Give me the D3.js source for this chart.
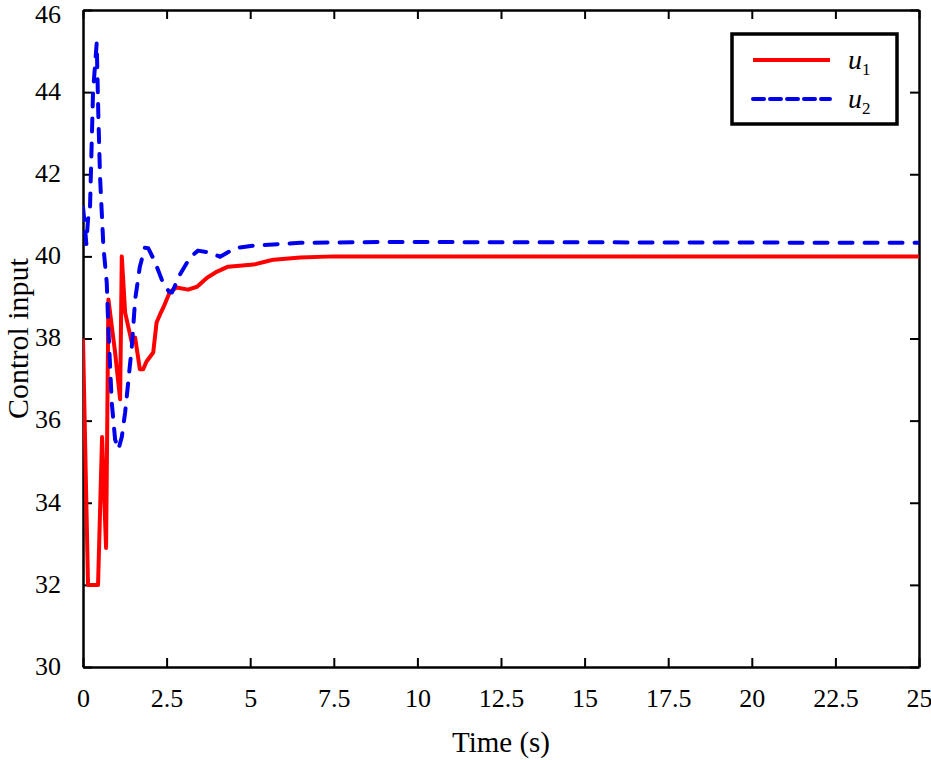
<!DOCTYPE html>
<html>
<head>
<meta charset="utf-8">
<script src="https://cdn.jsdelivr.net/npm/d3@7/dist/d3.min.js"></script>
<style>
  body { margin: 0; background: #fff; }
  svg text { font-family: "Liberation Serif", "Times New Roman", Times, "DejaVu Serif", serif; }
</style>
</head>
<body>
<script>
// u1 (red, solid)
const u1Time = [0, 0.15, 0.45, 0.57, 0.69, 0.76, 0.96, 1.11, 1.16, 1.26, 1.46, 1.56, 1.70, 1.80, 1.90, 2.10, 2.20, 2.30, 2.40, 2.60, 2.80, 3.14, 3.41, 3.71, 4.01, 4.34, 5.1, 5.5, 5.7, 6.5, 7.5, 25]
const u1Value = [38.0, 32.0, 32.0, 35.6, 32.9, 38.95, 37.66, 36.52, 40.0, 38.63, 37.9, 38.02, 37.25, 37.25, 37.44, 37.66, 38.39, 38.58, 38.75, 39.14, 39.24, 39.19, 39.26, 39.48, 39.63, 39.75, 39.8, 39.88, 39.92, 39.97, 40.0, 40.0]

// u2 (blue, dashed)
const u2Time = [0, 0.05, 0.1, 0.15, 0.21, 0.3, 0.41, 0.46, 0.51, 0.61, 0.71, 0.76, 0.86, 0.96, 1.06, 1.16, 1.26, 1.36, 1.46, 1.56, 1.70, 1.85, 1.95, 2.15, 2.39, 2.57, 2.66, 2.9, 3.2, 3.44, 3.8, 4.1, 4.55, 5.08, 6.49, 8.9, 25]
const u2Value = [41.2, 40.8, 40.3, 40.9, 41.2, 44.0, 45.2, 43.4, 41.94, 40.24, 39.36, 38.22, 36.44, 35.54, 35.3, 35.6, 36.2, 37.0, 37.8, 38.95, 39.75, 40.21, 40.2, 39.87, 39.36, 39.14, 39.12, 39.56, 39.97, 40.14, 40.09, 39.99, 40.2, 40.26, 40.33, 40.35, 40.33]

const xTicks = [0, 2.5, 5, 7.5, 10, 12.5, 15, 17.5, 20, 22.5, 25]
const yTicks = [30, 32, 34, 36, 38, 40, 42, 44, 46]

const width = 931
const height = 760
const plotLeft = 83, plotRight = 919, plotTop = 10, plotBottom = 667
const serif = '"Liberation Serif", "Times New Roman", Times, "DejaVu Serif", serif'

const svg = d3.select('body').append('svg')
  .attr('width', width)
  .attr('height', height)
  .style('display', 'block')

const x = d3.scaleLinear().domain([0, 25]).range([plotLeft, plotRight])
const y = d3.scaleLinear().domain([30, 46]).range([plotBottom, plotTop])

const tickLen = 9

// Axes with inward ticks, box closed with mirrored axes
const gx = svg.append('g').attr('transform', `translate(0,${plotBottom})`)
  .call(d3.axisBottom(x).tickValues(xTicks).tickSizeInner(-tickLen).tickSizeOuter(0).tickPadding(22).tickFormat(d3.format('')))
const gxTop = svg.append('g').attr('transform', `translate(0,${plotTop})`)
  .call(d3.axisTop(x).tickValues(xTicks).tickSizeInner(-tickLen).tickSizeOuter(0).tickFormat(''))
const gy = svg.append('g').attr('transform', `translate(${plotLeft},0)`)
  .call(d3.axisLeft(y).tickValues(yTicks).tickSizeInner(-tickLen).tickSizeOuter(0).tickPadding(22))
const gyRight = svg.append('g').attr('transform', `translate(${plotRight},0)`)
  .call(d3.axisRight(y).tickValues(yTicks).tickSizeInner(-tickLen).tickSizeOuter(0).tickFormat(''))

;[gx, gxTop, gy, gyRight].forEach((g) => {
  g.attr('font-family', serif).attr('font-size', 26)
  g.select('.domain').attr('stroke', '#000').attr('stroke-width', 2.5)
  g.selectAll('.tick line').attr('stroke', '#000').attr('stroke-width', 2)
  g.selectAll('.tick text').attr('fill', '#000')
})
// top label sits right at the frame edge; nudge it so it stays inside the page
gy.selectAll('.tick text').attr('dy', (d) => (d === 46 ? '0.48em' : '0.28em'))

// Lines
const line = d3.line().x((d) => x(d[0])).y((d) => y(d[1]))

svg.append('clipPath').attr('id', 'plotclip')
  .append('rect').attr('x', plotLeft).attr('y', plotTop)
  .attr('width', plotRight - plotLeft).attr('height', plotBottom - plotTop)

svg.append('path')
  .datum(u1Time.map((t, i) => [t, u1Value[i]]))
  .attr('clip-path', 'url(#plotclip)')
  .attr('fill', 'none')
  .attr('stroke', '#ff0000')
  .attr('stroke-width', 4)
  .attr('stroke-linejoin', 'round')
  .attr('d', line)

svg.append('path')
  .datum(u2Time.map((t, i) => [t, u2Value[i]]))
  .attr('clip-path', 'url(#plotclip)')
  .attr('fill', 'none')
  .attr('stroke', '#0000ee')
  .attr('stroke-width', 4)
  .attr('stroke-dasharray', '13,12')
  .attr('stroke-linecap', 'round')
  .attr('stroke-linejoin', 'round')
  .attr('d', line)

// Axis labels
svg.append('text')
  .attr('x', (plotLeft + plotRight) / 2)
  .attr('y', 752)
  .attr('text-anchor', 'middle')
  .attr('font-family', serif)
  .attr('font-size', 29)
  .text('Time (s)')

svg.append('text')
  .attr('transform', `translate(28,${(plotTop + plotBottom) / 2}) rotate(-90)`)
  .attr('text-anchor', 'middle')
  .attr('font-family', serif)
  .attr('font-size', 30)
  .text('Control input')

// Legend
const legend = svg.append('g')
legend.append('rect')
  .attr('x', 732).attr('y', 34).attr('width', 165).attr('height', 90)
  .attr('fill', '#fff').attr('stroke', '#000').attr('stroke-width', 3.5)

const legendItems = [
  { name: 'u', sub: '1', color: '#ff0000', dash: null, cap: 'butt', y: 60 },
  { name: 'u', sub: '2', color: '#0000ee', dash: '11,6', cap: 'round', y: 99 }
]
legendItems.forEach((item) => {
  legend.append('line')
    .attr('x1', 753).attr('x2', 830).attr('y1', item.y).attr('y2', item.y)
    .attr('stroke', item.color).attr('stroke-width', 4)
    .attr('stroke-linecap', item.cap)
    .attr('stroke-dasharray', item.dash)
  const t = legend.append('text')
    .attr('x', 848).attr('y', item.y + 9)
    .attr('font-family', serif)
    .attr('font-size', 28)
  t.append('tspan').attr('font-style', 'italic').text(item.name)
  t.append('tspan').attr('dy', 6).attr('font-size', 17).text(item.sub)
})
</script>
</body>
</html>
